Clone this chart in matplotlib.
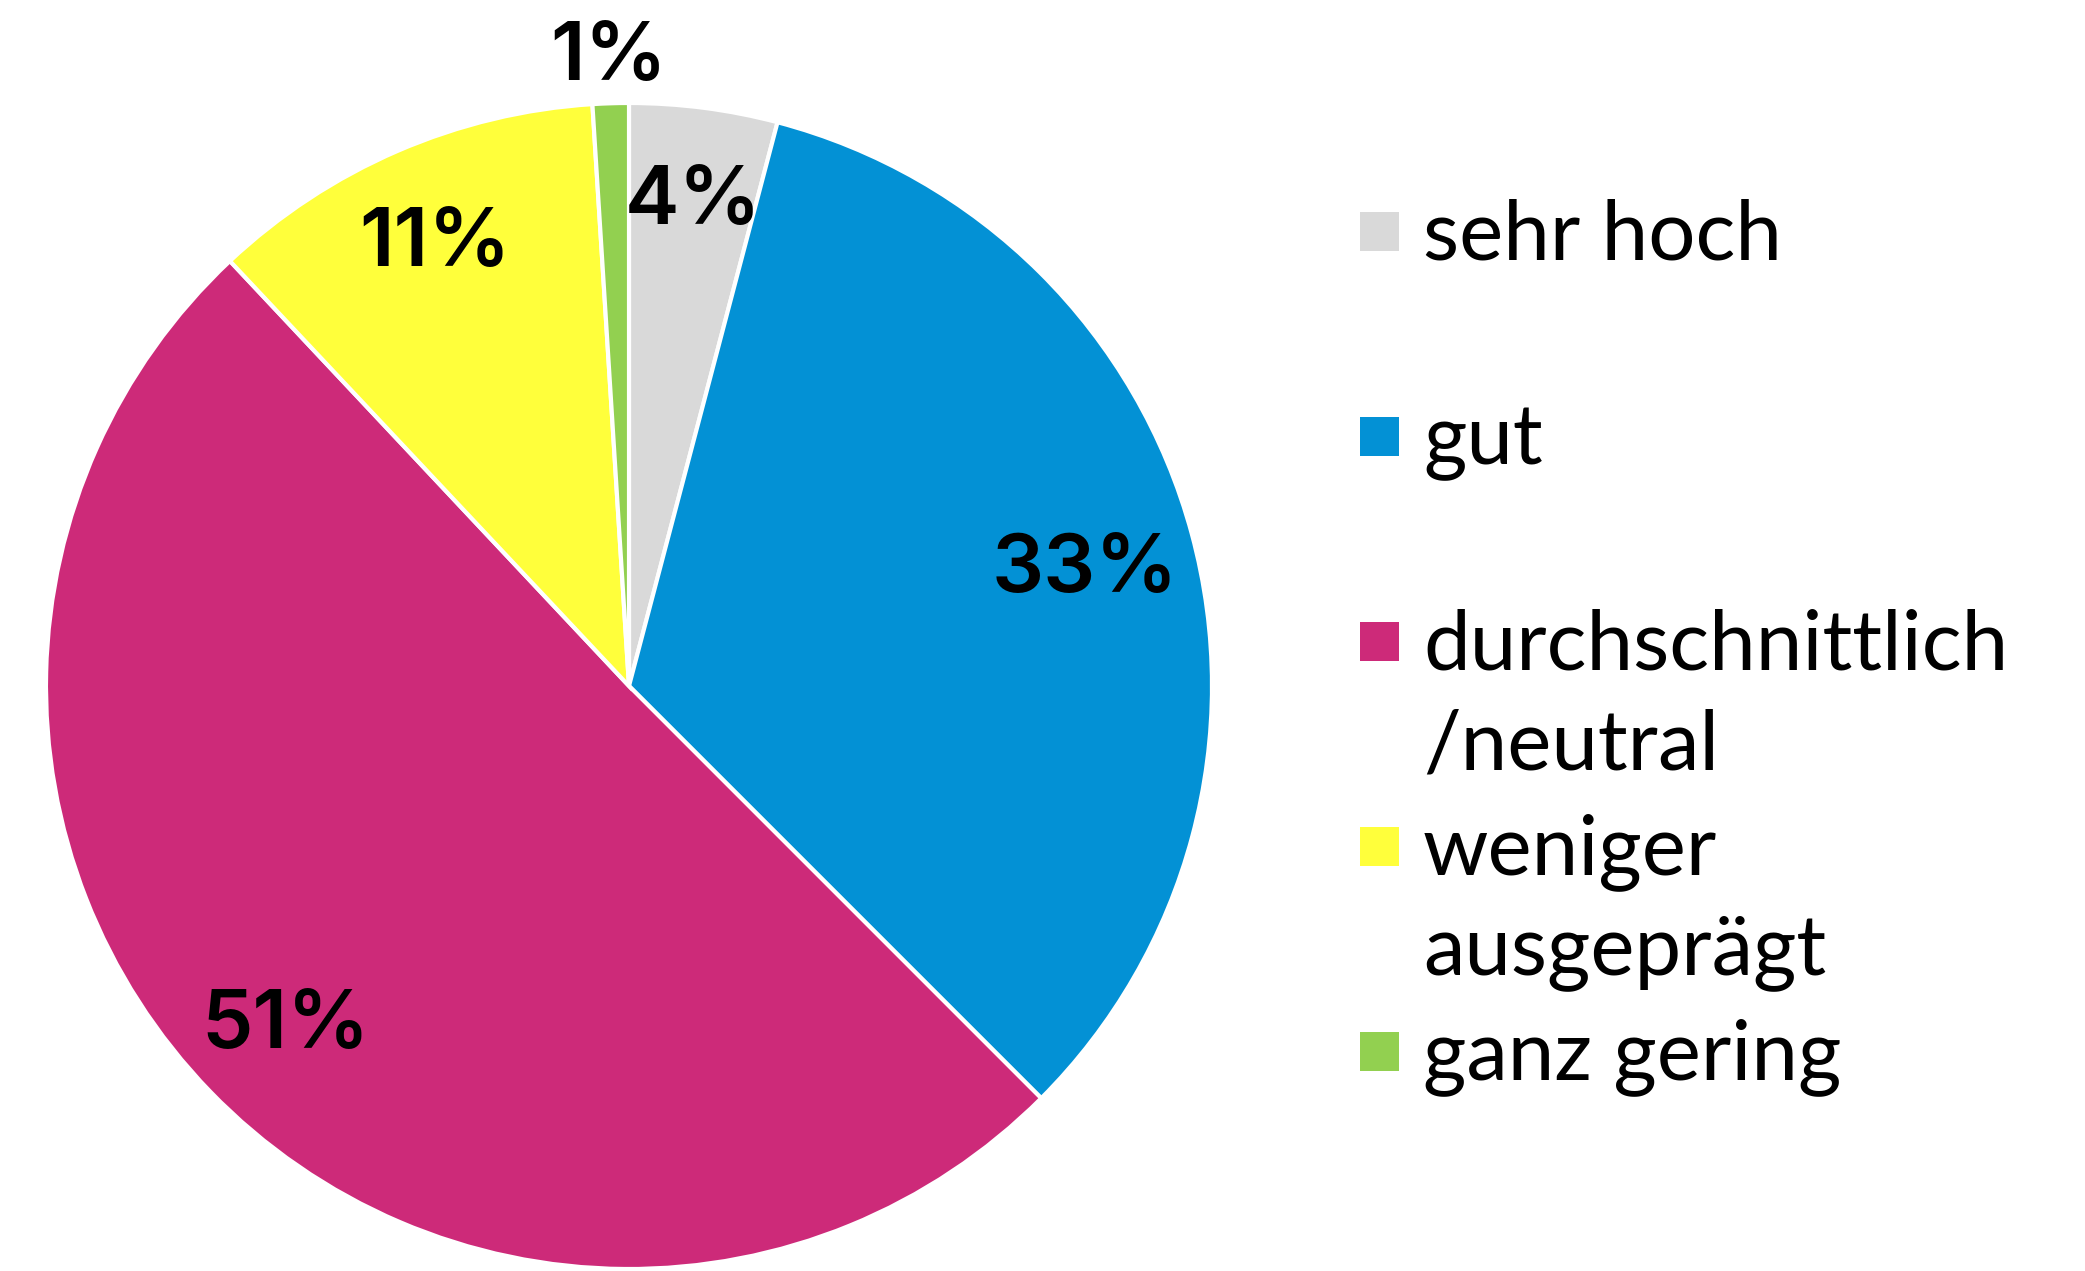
import matplotlib
matplotlib.use("Agg")
import matplotlib.pyplot as plt
from matplotlib.patches import Rectangle
import numpy as np

# ---- data ----
categories = ["sehr hoch", "gut", "durchschnittlich\n/neutral", "weniger\nausgeprägt", "ganz gering"]
values = [4.1, 33.4, 50.5, 11.0, 1.0]
pct_labels = ["4%", "33%", "51%", "11%", "1%"]

# ---- styles ----
colors = ["#D9D9D9", "#0391D5", "#CD2A79", "#FFFF3B", "#92D050"]
label_radius = [0.85, 0.81, 0.82, 0.84, 1.09]

W, H, DPI = 2085, 1271, 100
fig = plt.figure(figsize=(W / DPI, H / DPI), dpi=DPI)
fig.patch.set_facecolor("white")

cx, cy, R = 629, 686, 583  # pixel center (from top) and radius
ax = fig.add_axes([(cx - R) / W, (H - cy - R) / H, 2 * R / W, 2 * R / H])
wedges, _ = ax.pie(values, colors=colors, startangle=90, counterclock=False,
                   wedgeprops=dict(edgecolor="white", linewidth=3))
ax.set_xlim(-1, 1)
ax.set_ylim(-1, 1)
ax.set_aspect("equal")
ax.axis("off")

for w, lab, r in zip(wedges, pct_labels, label_radius):
    ang = np.deg2rad((w.theta1 + w.theta2) / 2)
    ax.text(r * np.cos(ang), r * np.sin(ang), lab, ha="center", va="center_baseline",
            fontsize=59, fontweight="semibold", family=["Inter", "DejaVu Sans"],
            color="black", clip_on=False)

# ---- legend (manual) ----
sq_x, sq_w = 1360, 39
txt_x = 1423
base0 = 259
step = 205
line_gap = 100
for i, (cat, col) in enumerate(zip(categories, colors)):
    b = base0 + i * step
    fig.patches.append(Rectangle((sq_x / W, (H - (b - 8)) / H), sq_w / W, sq_w / H,
                                 transform=fig.transFigure, facecolor=col,
                                 edgecolor="none"))
    for j, line in enumerate(cat.split("\n")):
        fig.text(txt_x / W, (H - (b + j * line_gap)) / H, line, ha="left",
                 va="baseline", fontsize=60, family=["Lato", "DejaVu Sans"],
                 color="black")

fig.savefig("out.png", dpi=DPI, facecolor="white")
